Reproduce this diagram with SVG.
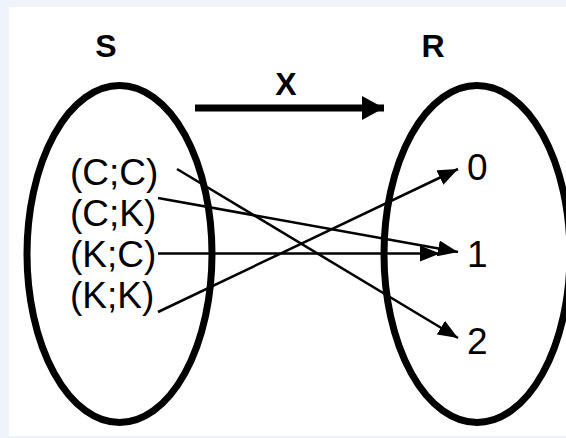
<svg xmlns="http://www.w3.org/2000/svg" width="566" height="438" viewBox="0 0 566 438">
  <defs>
    <marker id="thin" markerUnits="userSpaceOnUse" markerWidth="20" markerHeight="16" refX="20" refY="8" orient="auto">
      <path d="M0,0 L20,8 L0,16 z" fill="#000"/>
    </marker>
    <marker id="big" markerUnits="userSpaceOnUse" markerWidth="22" markerHeight="24" refX="22" refY="12" orient="auto">
      <path d="M0,0 L22,12 L0,24 z" fill="#000"/>
    </marker>
  </defs>
  <style>
    .set { fill: none; stroke: #000; stroke-width: 7; }
    .title { font-family: "Liberation Sans", Arial, sans-serif; font-weight: bold; font-size: 32px; fill: #000; text-anchor: middle; }
    .lbl { font-family: "Liberation Sans", Arial, sans-serif; font-size: 37px; fill: #000; }
    .conn { stroke: #000; stroke-width: 2.5; fill: none; marker-end: url(#thin); }
  </style>
  <rect x="0" y="0" width="566" height="438" fill="#eef4f9"/>
  <rect x="9" y="7" width="557" height="429" fill="#fff"/>

  <g id="set-S">
    <ellipse class="set" cx="119.5" cy="254" rx="92.5" ry="168.5"/>
    <text class="title" x="106" y="57">S</text>
    <text class="lbl" x="70" y="185">(C;C)</text>
    <text class="lbl" x="70" y="226">(C;K)</text>
    <text class="lbl" x="70" y="267">(K;C)</text>
    <text class="lbl" x="70" y="308">(K;K)</text>
  </g>

  <g id="set-R">
    <ellipse class="set" cx="477" cy="254" rx="93" ry="168.5"/>
    <text class="title" x="433" y="57">R</text>
    <text class="lbl" x="467" y="180">0</text>
    <text class="lbl" x="467" y="267">1</text>
    <text class="lbl" x="467" y="354">2</text>
  </g>

  <g id="mapping-X">
    <line x1="195" y1="108" x2="384" y2="108" stroke="#000" stroke-width="7" marker-end="url(#big)"/>
    <text class="title" x="286" y="95">X</text>
  </g>

  <g id="connectors">
    <line class="conn" x1="177" y1="169" x2="458" y2="338"/>
    <line class="conn" x1="158" y1="198" x2="458" y2="252"/>
    <line class="conn" x1="158" y1="253.5" x2="440" y2="253.5"/>
    <line class="conn" x1="158" y1="312" x2="458" y2="169"/>
  </g>
</svg>
